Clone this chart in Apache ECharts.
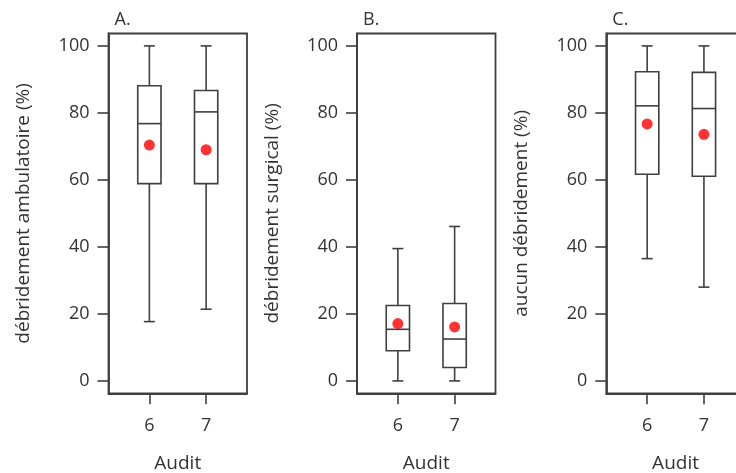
<!DOCTYPE html>
<html>
<head>
<meta charset="utf-8">
<script src="https://cdn.jsdelivr.net/npm/echarts@6/dist/echarts.min.js"></script>
<style>
  html, body { margin: 0; padding: 0; background: #fff; }
  #chart { width: 736px; height: 473px; }
</style>
</head>
<body>
<div id="chart"></div>
<script>
// Audit rounds on the x axis
const audits = [6, 7];
const yTicks = [0, 20, 40, 60, 80, 100];

// A. débridement ambulatoire (%)
const ambLow    = [17.7, 21.4];
const ambQ1     = [58.9, 58.9];
const ambMedian = [76.8, 80.3];
const ambQ3     = [88.1, 86.7];
const ambHigh   = [100, 100];
const ambMean   = [70.4, 69.0];

// B. débridement surgical (%)
const surLow    = [0, 0];
const surQ1     = [9.0, 4.0];
const surMedian = [15.4, 12.5];
const surQ3     = [22.5, 23.1];
const surHigh   = [39.5, 46.1];
const surMean   = [17.1, 16.1];

// C. aucun débridement (%)
const aucLow    = [36.5, 28.0];
const aucQ1     = [61.7, 61.1];
const aucMedian = [82.1, 81.3];
const aucQ3     = [92.3, 92.1];
const aucHigh   = [100, 100];
const aucMean   = [76.7, 73.6];

const panels = [
  { tag: 'A.', name: 'débridement ambulatoire (%)', low: ambLow, q1: ambQ1, med: ambMedian, q3: ambQ3, high: ambHigh, mean: ambMean, left: 108.5 },
  { tag: 'B.', name: 'débridement surgical (%)',    low: surLow, q1: surQ1, med: surMedian, q3: surQ3, high: surHigh, mean: surMean, left: 357 },
  { tag: 'C.', name: 'aucun débridement (%)',       low: aucLow, q1: aucQ1, med: aucMedian, q3: aucQ3, high: aucHigh, mean: aucMean, left: 606.3 }
];

const FONT = '"Open Sans", sans-serif';
const INK = '#333333';
const LINE = '#3f3f3f';
const BOX_HALF = 0.205;   // half box width, in audit units
const CAP_HALF = 0.097;   // half whisker-cap width

function renderBox(params, api) {
  const x = api.value(0);
  const low = api.coord([x, api.value(1)]);
  const q1 = api.coord([x, api.value(2)]);
  const med = api.coord([x, api.value(3)]);
  const q3 = api.coord([x, api.value(4)]);
  const high = api.coord([x, api.value(5)]);
  const bw = api.size([BOX_HALF, 0])[0];
  const cw = api.size([CAP_HALF, 0])[0];
  const style = { stroke: LINE, lineWidth: 1.6, fill: null };
  return {
    type: 'group',
    children: [
      { type: 'line', shape: { x1: high[0], y1: high[1], x2: q3[0], y2: q3[1] }, style },
      { type: 'line', shape: { x1: q1[0], y1: q1[1], x2: low[0], y2: low[1] }, style },
      { type: 'line', shape: { x1: high[0] - cw, y1: high[1], x2: high[0] + cw, y2: high[1] }, style },
      { type: 'line', shape: { x1: low[0] - cw, y1: low[1], x2: low[0] + cw, y2: low[1] }, style },
      { type: 'rect', shape: { x: q3[0] - bw, y: q3[1], width: 2 * bw, height: q1[1] - q3[1] },
        style: { stroke: LINE, lineWidth: 1.6, fill: '#fff' } },
      { type: 'line', shape: { x1: med[0] - bw, y1: med[1], x2: med[0] + bw, y2: med[1] }, style }
    ]
  };
}

const grids = [], xAxes = [], yAxes = [], series = [], titles = [];
panels.forEach((p, i) => {
  grids.push({
    left: p.left, top: 33.5, width: 138.5, height: 359.8,
    outerBoundsMode: 'none', containLabel: false,
    show: true, borderColor: LINE, borderWidth: 1.8, backgroundColor: 'transparent'
  });
  xAxes.push({
    type: 'value', gridIndex: i, min: 5.28, max: 7.72,
    name: 'Audit', nameLocation: 'middle', nameGap: 61,
    nameTextStyle: { fontFamily: FONT, fontSize: 19, color: INK },
    axisLine: { show: true, onZero: false, lineStyle: { color: LINE, width: 1.8 } },
    axisTick: { show: true, length: 11, customValues: audits, lineStyle: { color: LINE, width: 1.6 } },
    axisLabel: { customValues: audits, margin: 24, fontFamily: FONT, fontSize: 18, color: INK },
    splitLine: { show: false }
  });
  yAxes.push({
    type: 'value', gridIndex: i, min: -3.7, max: 103.7,
    name: p.name, nameLocation: 'middle', nameGap: 75,
    nameTextStyle: { fontFamily: FONT, fontSize: 19, color: INK },
    axisLine: { show: true, onZero: false, lineStyle: { color: LINE, width: 1.8 } },
    axisTick: { show: true, length: 11, customValues: yTicks, lineStyle: { color: LINE, width: 1.6 } },
    axisLabel: { customValues: yTicks, margin: 19, fontFamily: FONT, fontSize: 18, color: INK },
    splitLine: { show: false }
  });
  series.push({
    type: 'custom', xAxisIndex: i, yAxisIndex: i,
    renderItem: renderBox,
    encode: { x: 0, y: [1, 2, 3, 4, 5] },
    data: audits.map((a, k) => [a, p.low[k], p.q1[k], p.med[k], p.q3[k], p.high[k]]),
    z: 2
  });
  series.push({
    type: 'scatter', xAxisIndex: i, yAxisIndex: i,
    symbol: 'circle', symbolSize: 11,
    itemStyle: { color: '#ff0000' },
    data: audits.map((a, k) => [a, p.mean[k]]),
    z: 3
  });
  titles.push({
    text: p.tag, left: p.left + 1, top: 6,
    textStyle: { fontFamily: FONT, fontSize: 18, fontWeight: 'normal', color: INK }
  });
});

const chart = echarts.init(document.getElementById('chart'), null, { renderer: 'canvas' });
chart.setOption({
  animation: false,
  backgroundColor: '#fff',
  title: titles,
  grid: grids,
  xAxis: xAxes,
  yAxis: yAxes,
  series: series
});
</script>
</body>
</html>
